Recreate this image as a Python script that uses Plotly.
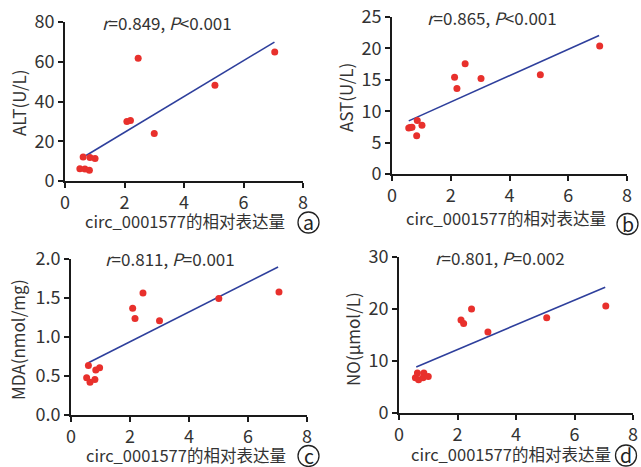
import plotly.graph_objects as go

FONT = "Noto Sans CJK SC"
TXT = "#333333"

# Panel a: ALT
a_x = [0.50, 0.67, 0.82, 0.61, 0.84, 1.01, 2.08, 2.20, 2.46, 3.00, 5.04, 7.05]
a_y = [6.2, 6.0, 5.4, 12.1, 11.8, 11.3, 29.9, 30.4, 61.7, 23.9, 48.2, 64.9]
a_fit_x = [0.71, 7.04]
a_fit_y = [12.8, 69.9]

# Panel b: AST
b_x = [0.57, 0.62, 0.68, 0.86, 0.84, 1.02, 2.13, 2.21, 2.49, 3.03, 5.05, 7.07]
b_y = [7.34, 7.40, 7.45, 8.5, 6.1, 7.77, 15.4, 13.6, 17.55, 15.2, 15.8, 20.4]
b_fit_x = [0.57, 7.05]
b_fit_y = [8.46, 22.07]

# Panel c: MDA
c_x = [0.59, 0.53, 0.645, 0.81, 0.84, 0.97, 2.09, 2.17, 2.44, 3.00, 5.01, 7.05]
c_y = [0.635, 0.478, 0.42, 0.456, 0.576, 0.605, 1.369, 1.237, 1.565, 1.207, 1.493, 1.578]
c_fit_x = [0.59, 7.02]
c_fit_y = [0.67, 1.898]

# Panel d: NO
d_x = [0.56, 0.63, 0.67, 0.85, 0.82, 1.00, 2.12, 2.21, 2.48, 3.04, 5.05, 7.07]
d_y = [6.8, 7.7, 6.4, 7.7, 6.8, 7.0, 17.9, 17.2, 20.0, 15.6, 18.3, 20.6]
d_fit_x = [0.59, 7.05]
d_fit_y = [8.85, 24.2]

x_ticks = [0, 2, 4, 6, 8]
a_ticks = [0, 20, 40, 60, 80]
b_ticks = [0, 5, 10, 15, 20, 25]
c_ticks = [0.0, 0.5, 1.0, 1.5, 2.0]
c_tick_text = ["0.0", "0.5", "1.0", "1.5", "2.0"]
d_ticks = [0, 10, 20, 30]

x_title = "circ_0001577的相对表达量"
y_titles = ["ALT(U/L)", "AST(U/L)", "MDA(nmol/mg)", "NO(μmol/L)"]
stats = ["<i>r</i>=0.849, <i>P</i>&lt;0.001", "<i>r</i>=0.865, <i>P</i>&lt;0.001",
         "<i>r</i>=0.811, <i>P</i>=0.001", "<i>r</i>=0.801, <i>P</i>=0.002"]
labels = ["a", "b", "c", "d"]

W, H = 641, 467
# pixel boxes: (left, right, top, bottom)
boxes = [(65, 303, 22, 181), (392, 627, 17, 174), (71, 307, 259, 415), (399, 633, 257, 413)]

data = [(a_x, a_y, a_fit_x, a_fit_y, a_ticks, None, [0, 80]),
        (b_x, b_y, b_fit_x, b_fit_y, b_ticks, None, [0, 25]),
        (c_x, c_y, c_fit_x, c_fit_y, c_ticks, c_tick_text, [0, 2.0]),
        (d_x, d_y, d_fit_x, d_fit_y, d_ticks, None, [0, 30])]

fig = go.Figure()
layout = {}
annotations = []
shapes = []
stat_pos = [(167, 22), (492, 18), (170, 258), (500, 257)]
xt_pos = [(185, 221), (506, 218), (186, 455), (511, 454)]
yt_pos = [(18, 103), (345, 98), (17, 340), (352, 339)]
lab_pos = [(308.5, 222.5), (627.5, 224), (308.5, 456), (626, 455.5)]

for i, (xs, ys, fx, fy, yt, ytt, yr) in enumerate(data):
    n = "" if i == 0 else str(i + 1)
    L, R, T, B = boxes[i]
    fig.add_trace(go.Scatter(x=fx, y=fy, mode="lines", line=dict(color="#2e3f9c", width=1.6),
                             xaxis="x" + n, yaxis="y" + n, showlegend=False, cliponaxis=False))
    fig.add_trace(go.Scatter(x=xs, y=ys, mode="markers",
                             marker=dict(color="#e8302c", size=7, line=dict(width=0)),
                             xaxis="x" + n, yaxis="y" + n, showlegend=False, cliponaxis=False))
    common = dict(showgrid=False, zeroline=False, showline=True, linecolor="#1a1a1a", linewidth=1.6,
                  ticks="outside", ticklen=5, tickwidth=1.6, tickcolor="#1a1a1a", automargin=False,
                  tickfont=dict(family=FONT, size=18, color=TXT))
    layout["xaxis" + n] = dict(common, domain=[L / W, R / W], range=[0, 8], tickvals=x_ticks,
                               anchor="y" + n)
    yax = dict(common, domain=[1 - B / H, 1 - T / H], range=yr, tickvals=yt, anchor="x" + n)
    if ytt:
        yax["ticktext"] = ytt
    layout["yaxis" + n] = yax

    for (px, py), txt, size, ang in [(stat_pos[i], stats[i], 17, 0), (xt_pos[i], x_title, 16.5, 0),
                                     (yt_pos[i], y_titles[i], 17, -90),
                                     ((lab_pos[i][0], lab_pos[i][1] - 1), labels[i], 19.5, 0)]:
        annotations.append(dict(x=px / W, y=1 - py / H, xref="paper", yref="paper", text=txt,
                                showarrow=False, xanchor="center", yanchor="middle", textangle=ang,
                                font=dict(family=FONT, size=size, color="#222222" if size == 19.5 else TXT)))
    cx, cy = lab_pos[i]
    r = 10.5
    shapes.append(dict(type="circle", xref="paper", yref="paper",
                       x0=(cx - r) / W, x1=(cx + r) / W, y0=1 - (cy + r) / H, y1=1 - (cy - r) / H,
                       line=dict(color="#222222", width=1.3)))

fig.update_layout(width=W, height=H, margin=dict(l=0, r=0, t=0, b=0, autoexpand=False),
                  paper_bgcolor="white", plot_bgcolor="white", annotations=annotations,
                  shapes=shapes, **layout)
fig.write_html("out.html", config={"displayModeBar": False},
               post_script="document.body.style.margin='0';document.body.style.overflow='hidden';")
